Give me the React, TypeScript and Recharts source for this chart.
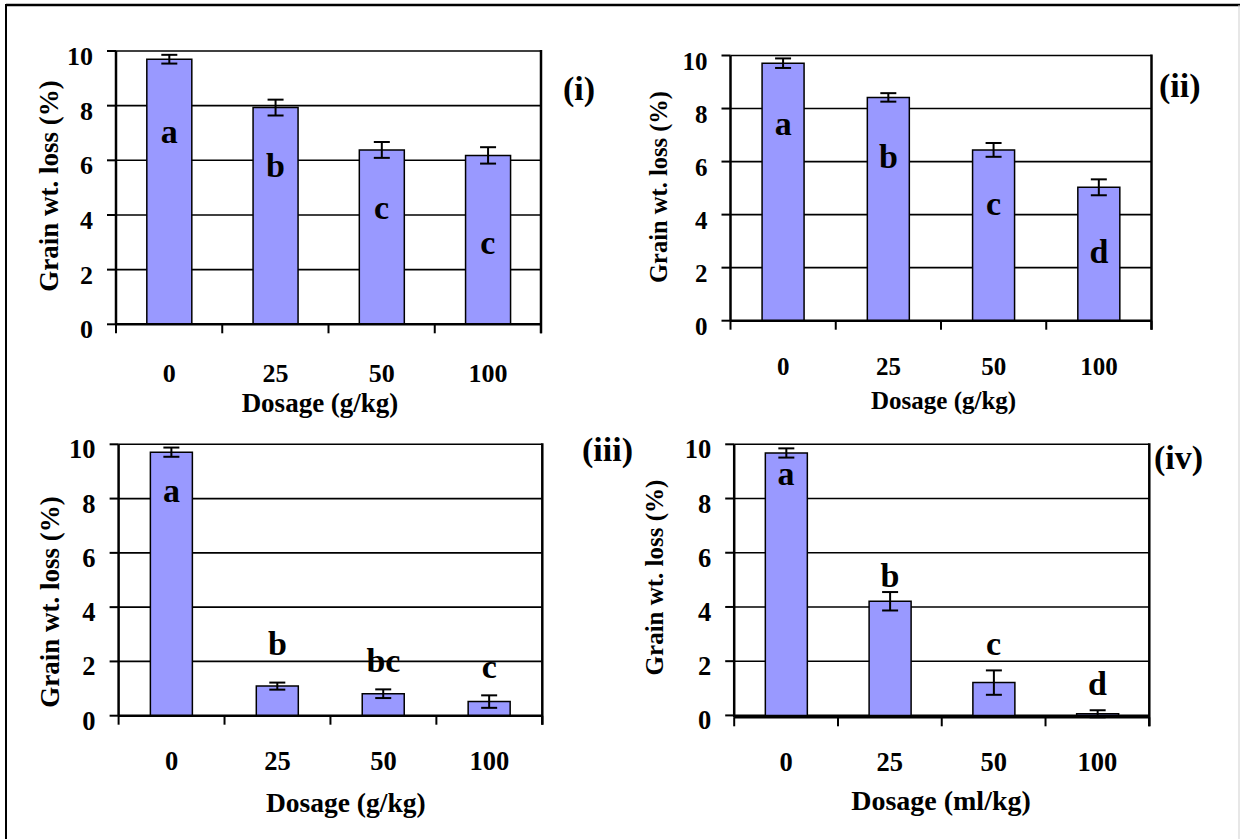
import {
  Bar,
  CartesianGrid,
  ComposedChart,
  ErrorBar,
  Scatter,
  XAxis,
  YAxis,
} from "recharts";

const doses = ["0", "25", "50", "100"];
const yTicks = [0, 2, 4, 6, 8, 10];

// (i)
const lossI = [9.7, 7.93, 6.38, 6.18];
const errI = [0.16, 0.29, 0.29, 0.3];
const lettersI = ["a", "b", "c", "c"];
const letterAtI = [6.62, 5.39, 3.85, 2.57];

// (ii)
const lossII = [9.71, 8.42, 6.44, 5.03];
const errII = [0.18, 0.16, 0.26, 0.3];
const lettersII = ["a", "b", "c", "d"];
const letterAtII = [6.99, 5.74, 3.98, 2.16];

// (iii)
const lossIII = [9.71, 1.09, 0.81, 0.52];
const errIII = [0.17, 0.13, 0.16, 0.23];
const lettersIII = ["a", "b", "bc", "c"];
const letterAtIII = [7.89, 2.24, 1.62, 1.38];

// (iv)
const lossIV = [9.68, 4.21, 1.21, 0.06];
const errIV = [0.17, 0.34, 0.45, 0.13];
const lettersIV = ["a", "b", "c", "d"];
const letterAtIV = [8.51, 4.73, 2.23, 0.77];

const FONT = '"Liberation Serif", "Times New Roman", Times, serif';
const YW = 60;
const XH = 30;

type Panel = {
  label: string;
  xTitle: string;
  loss: number[];
  err: number[];
  letters: string[];
  letterAt: number[];
  box: number[]; // chart left, top, width, height
  plot: number[]; // plot left, top, right, bottom
  gap: string;
  tickFont: number;
  tickDy: number;
  titleFont: number;
  yTitleFont: number;
  labelPos: number[];
  xTitlePos: number[];
  yTitlePos: number[];
};

const panels: Panel[] = [
  {
    label: "(i)", xTitle: "Dosage (g/kg)",
    loss: lossI, err: errI, letters: lettersI, letterAt: letterAtI,
    box: [0, 0, 620, 420], plot: [116, 51, 541, 324.3], gap: "29%",
    tickFont: 26, tickDy: 57.4, titleFont: 27, yTitleFont: 27,
    labelPos: [563, 100], xTitlePos: [320, 411.7], yTitlePos: [58.4, 186],
  },
  {
    label: "(ii)", xTitle: "Dosage (g/kg)",
    loss: lossII, err: errII, letters: lettersII, letterAt: letterAtII,
    box: [620, 0, 622, 420], plot: [730.5, 55.5, 1151.5, 320.7], gap: "30%",
    tickFont: 25, tickDy: 54.3, titleFont: 25, yTitleFont: 24.5,
    labelPos: [1159, 97], xTitlePos: [943.6, 408.5], yTitlePos: [666.5, 187],
  },
  {
    label: "(iii)", xTitle: "Dosage (g/kg)",
    loss: lossIII, err: errIII, letters: lettersIII, letterAt: letterAtIII,
    box: [0, 420, 620, 419], plot: [118.6, 444.3, 542.3, 715.7], gap: "30%",
    tickFont: 26.5, tickDy: 54.3, titleFont: 27.5, yTitleFont: 27,
    labelPos: [582, 461], xTitlePos: [345.8, 811.7], yTitlePos: [58.5, 602],
  },
  {
    label: "(iv)", xTitle: "Dosage (ml/kg)",
    loss: lossIV, err: errIV, letters: lettersIV, letterAt: letterAtIV,
    box: [620, 420, 622, 419], plot: [734.2, 444.3, 1149.3, 717.3], gap: "30%",
    tickFont: 26.5, tickDy: 54, titleFont: 28, yTitleFont: 25,
    labelPos: [1154, 469], xTitlePos: [941, 810], yTitlePos: [662.5, 577.5],
  },
];

const textStyle = { fontFamily: FONT, fontWeight: 700, fill: "#000" } as const;

function PanelChart({ p }: { p: Panel }) {
  const [bl, bt, bw, bh] = p.box;
  const [pl, pt, pr, pb] = p.plot;
  const band = (pr - pl) / doses.length;
  const rows = doses.map((d, i) => ({
    dose: d,
    loss: p.loss[i],
    err: p.err[i],
    letter: p.letters[i],
    letterAt: p.letterAt[i],
  }));
  const margin = {
    top: pt - bt,
    left: pl - bl - YW,
    right: bl + bw - pr,
    bottom: bt + bh - pb - XH,
  };

  const xTick = (props: any) => {
    const { x, y, payload, index } = props;
    return (
      <g>
        <line x1={x - band / 2} x2={x - band / 2} y1={y} y2={y + 9} stroke="#000" strokeWidth={2} />
        {index === doses.length - 1 && (
          <line x1={x + band / 2} x2={x + band / 2} y1={y} y2={y + 9} stroke="#000" strokeWidth={2} />
        )}
        <text x={x} y={y + p.tickDy} textAnchor="middle" fontSize={p.tickFont} {...textStyle}>
          {payload.value}
        </text>
      </g>
    );
  };

  const yTick = (props: any) => {
    const { x, y, payload } = props;
    return (
      <text x={x} y={y + 14} textAnchor="end" fontSize={p.tickFont} {...textStyle}>
        {payload.value}
      </text>
    );
  };

  const letter = (s: any) => (
    <text x={s.cx} y={s.cy} textAnchor="middle" fontSize={34} {...textStyle}>
      {s.payload.letter}
    </text>
  );

  return (
    <div style={{ position: "absolute", left: bl, top: bt }}>
      <ComposedChart width={bw} height={bh} data={rows} margin={margin} barCategoryGap={p.gap}>
        <CartesianGrid vertical={false} stroke="#000" strokeWidth={1.6} />
        <XAxis
          dataKey="dose"
          height={XH}
          interval={0}
          tickSize={0}
          tickMargin={0}
          tickLine={false}
          axisLine={{ stroke: "#000", strokeWidth: 2.5 }}
          tick={xTick}
        />
        <YAxis
          domain={[0, 10]}
          ticks={yTicks}
          interval={0}
          width={YW}
          tickSize={9}
          tickMargin={14}
          tickLine={{ stroke: "#000", strokeWidth: 2 }}
          axisLine={{ stroke: "#000", strokeWidth: 2.5 }}
          tick={yTick}
        />
        <Bar dataKey="loss" fill="#9999FF" stroke="#000" strokeWidth={1.5} isAnimationActive={false}>
          <ErrorBar dataKey="err" width={8} stroke="#000" strokeWidth={2} isAnimationActive={false} />
        </Bar>
        <Scatter dataKey="letterAt" isAnimationActive={false} shape={letter} />
      </ComposedChart>
    </div>
  );
}

export default function App() {
  return (
    <div
      style={{
        position: "absolute",
        left: 0,
        top: 0,
        width: 1242,
        height: 839,
        background: "#fff",
        overflow: "hidden",
      }}
    >
      {panels.map((p) => (
        <PanelChart key={p.label} p={p} />
      ))}
      <svg
        width={1242}
        height={839}
        style={{ position: "absolute", left: 0, top: 0, pointerEvents: "none" }}
      >
        <line x1={6} y1={5} x2={1240} y2={5} stroke="#000" strokeWidth={2.5} />
        <line x1={6} y1={4} x2={6} y2={839} stroke="#000" strokeWidth={2} />
        <line x1={1239} y1={5} x2={1239} y2={839} stroke="#cfcfcf" strokeWidth={1} />
        {panels.map((p) => (
          <g key={p.label}>
            {/* right-hand frame of each plot area */}
            <line
              x1={p.plot[2]}
              x2={p.plot[2]}
              y1={p.plot[1] - 1}
              y2={p.plot[3] + 9}
              stroke="#000"
              strokeWidth={2.5}
            />
            <text x={p.labelPos[0]} y={p.labelPos[1]} fontSize={34} {...textStyle}>
              {p.label}
            </text>
            <text
              x={p.xTitlePos[0]}
              y={p.xTitlePos[1]}
              textAnchor="middle"
              fontSize={p.titleFont}
              {...textStyle}
            >
              {p.xTitle}
            </text>
            <text
              transform={`translate(${p.yTitlePos[0]},${p.yTitlePos[1]}) rotate(-90)`}
              textAnchor="middle"
              fontSize={p.yTitleFont}
              {...textStyle}
            >
              Grain wt. loss (%)
            </text>
          </g>
        ))}
      </svg>
    </div>
  );
}
